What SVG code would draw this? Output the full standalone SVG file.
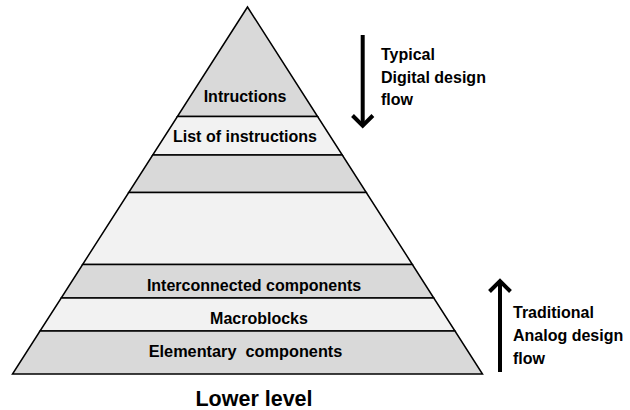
<svg xmlns="http://www.w3.org/2000/svg" width="630" height="410" viewBox="0 0 630 410">
<style>
.dark{fill:#d9d9d9;stroke:#000;stroke-width:1.5;stroke-linejoin:miter}
.light{fill:#f2f2f2;stroke:#000;stroke-width:1.5;stroke-linejoin:miter}
.t{font-family:"Liberation Sans",Arial,sans-serif;font-weight:bold;font-size:16px;fill:#000}
.lbl{text-anchor:middle}
.arr{fill:none;stroke:#000;stroke-width:4}
</style>
<rect width="630" height="410" fill="#fff"/>
<g id="layer-instructions">
<polygon class="dark" points="247.5,7 317.6,116.5 177.4,116.5"/>
<text class="t lbl" x="245" y="102">Intructions</text>
</g>
<g id="layer-list">
<polygon class="light" points="177.4,116.5 317.6,116.5 342.3,155 152.7,155"/>
<text class="t lbl" x="245" y="142">List of instructions</text>
</g>
<g id="layer-3">
<polygon class="dark" points="152.7,155 342.3,155 366.3,192.5 128.7,192.5"/>
</g>
<g id="layer-4">
<polygon class="light" points="128.7,192.5 366.3,192.5 412.4,264.5 82.6,264.5"/>
</g>
<g id="layer-interconnected">
<polygon class="dark" points="82.6,264.5 412.4,264.5 433.8,298 61.2,298"/>
<text class="t lbl" x="254" y="290.5">Interconnected components</text>
</g>
<g id="layer-macroblocks">
<polygon class="light" points="61.2,298 433.8,298 455,331 40,331"/>
<text class="t lbl" x="259" y="324.3">Macroblocks</text>
</g>
<g id="layer-elementary">
<polygon class="dark" points="40,331 455,331 482.5,374 12.5,374"/>
<text class="t lbl" x="245.5" y="357.2" style="font-size:16.3px" xml:space="preserve">Elementary  components</text>
</g>
<g id="label-lower">
<text class="t lbl" x="254" y="406" style="font-size:21.5px">Lower level</text>
</g>
<g id="label-digital">
<text class="t" x="381" y="60">Typical</text>
<text class="t" x="381" y="82.5">Digital design</text>
<text class="t" x="381" y="105">flow</text>
</g>
<g id="label-analog">
<text class="t" x="513" y="318">Traditional</text>
<text class="t" x="513" y="341">Analog design</text>
<text class="t" x="513" y="364">flow</text>
</g>
<g id="connectors">
<path class="arr" d="M362.7,35 V125"/>
<path class="arr" d="M352.5,115.5 L362.7,125.7 L372.9,115.5"/>
<path class="arr" d="M500,372 V282"/>
<path class="arr" d="M489.5,291.5 L500,281 L510.5,291.5"/>
</g>
</svg>
